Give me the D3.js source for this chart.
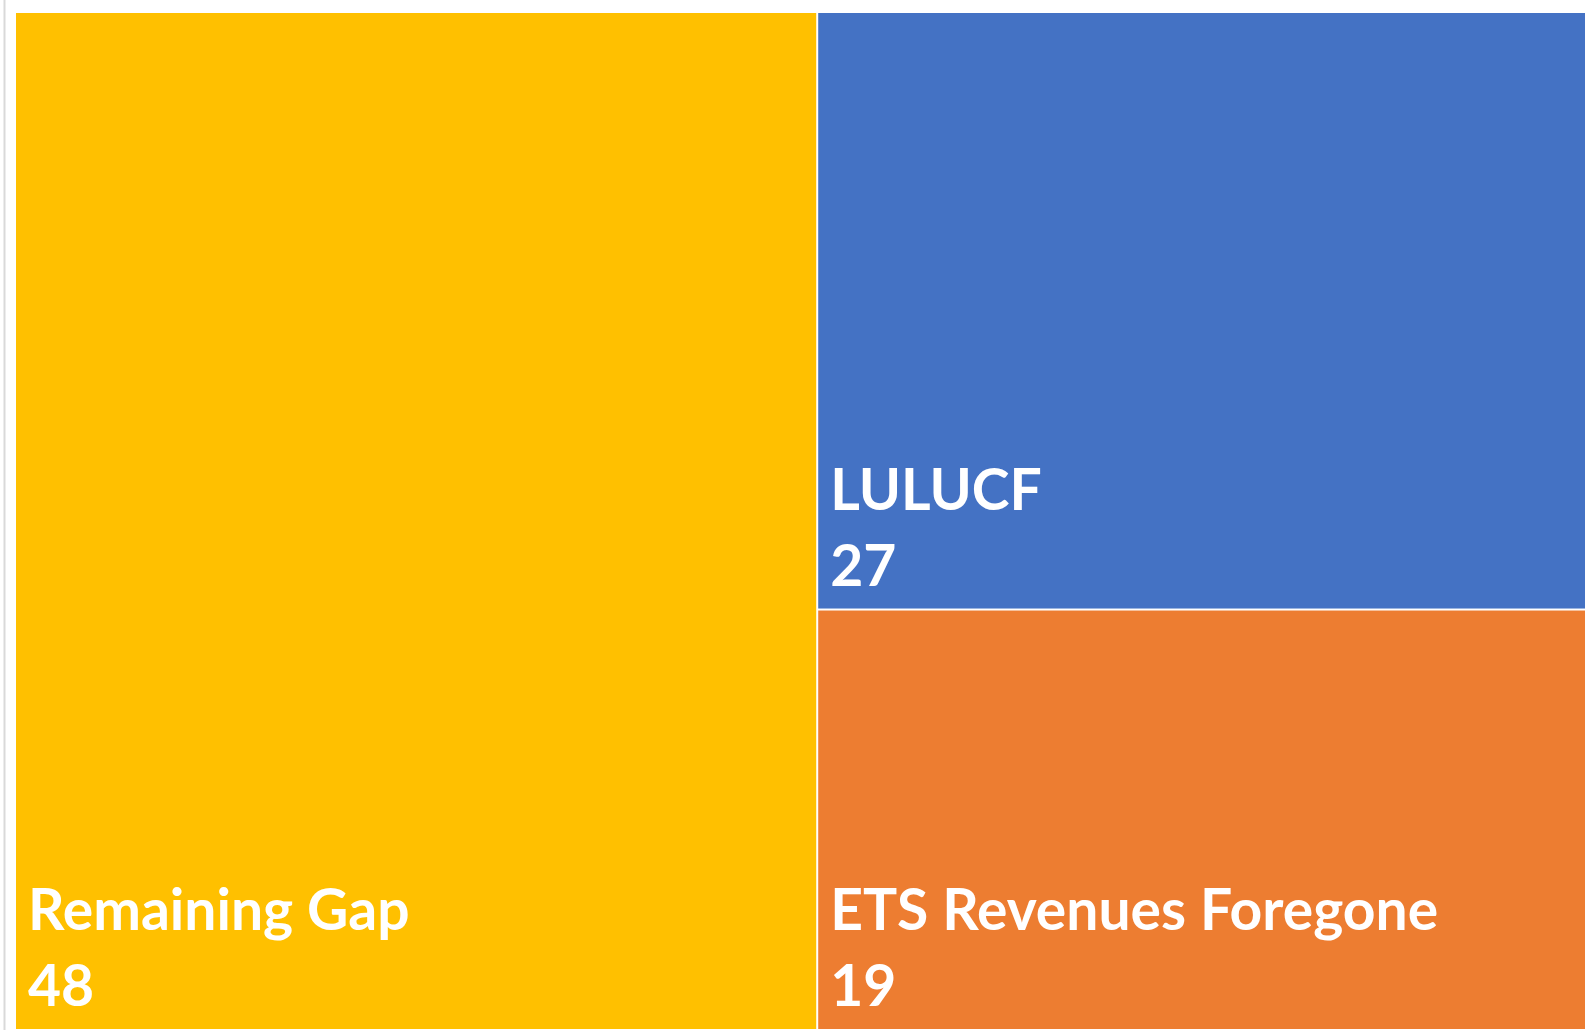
<!DOCTYPE html>
<html>
<head>
<meta charset="utf-8">
<script src="https://cdn.jsdelivr.net/npm/d3@7"></script>
<style>
  html, body { margin: 0; padding: 0; background: #ffffff; overflow: hidden; }
  svg { display: block; }
</style>
</head>
<body>
<svg id="chart" width="1589" height="1030"></svg>
<script>
const categories = ["Remaining Gap", "LULUCF", "ETS Revenues Foregone"];
const values = [48, 27, 19];
const colors = ["#FFC000", "#4472C4", "#ED7D31"];

const W = 1589, H = 1030;
const margin = { left: 16, top: 13, right: 4, bottom: 1 };
const svg = d3.select("#chart");

// thin gray frame line at the left
svg.append("line")
  .attr("x1", 4.5).attr("x2", 4.5)
  .attr("y1", 0).attr("y2", H)
  .attr("stroke", "#d9d9d9").attr("stroke-width", 2);

const root = d3.hierarchy({
  children: categories.map((c, i) => ({ name: c, value: values[i], color: colors[i] }))
}).sum(d => d.value || 0).sort((a, b) => b.value - a.value);

d3.treemap()
  .tile(d3.treemapBinary)
  .size([W - margin.left - margin.right, H - margin.top - margin.bottom])
  .paddingInner(2)
  .round(false)(root);

const g = svg.append("g").attr("transform", `translate(${margin.left},${margin.top})`);

const cell = g.selectAll("g.cell").data(root.leaves()).join("g").attr("class", "cell");

cell.append("rect")
  .attr("x", d => d.x0).attr("y", d => d.y0)
  .attr("width", d => d.x1 - d.x0).attr("height", d => d.y1 - d.y0)
  .attr("fill", d => d.data.color);

const fontSize = 57;
cell.append("text")
  .attr("x", d => d.x0 + 12)
  .attr("y", d => d.y1 - 23 - 76)
  .attr("fill", "#ffffff")
  .attr("font-family", "Lato, 'Open Sans', sans-serif")
  .attr("font-weight", 700)
  .attr("font-size", fontSize)
  .text(d => d.data.name);

cell.append("text")
  .attr("x", d => d.x0 + 12)
  .attr("y", d => d.y1 - 23)
  .attr("fill", "#ffffff")
  .attr("font-family", "Lato, 'Open Sans', sans-serif")
  .attr("font-weight", 700)
  .attr("font-size", fontSize)
  .text(d => d.data.value);
</script>
</body>
</html>
